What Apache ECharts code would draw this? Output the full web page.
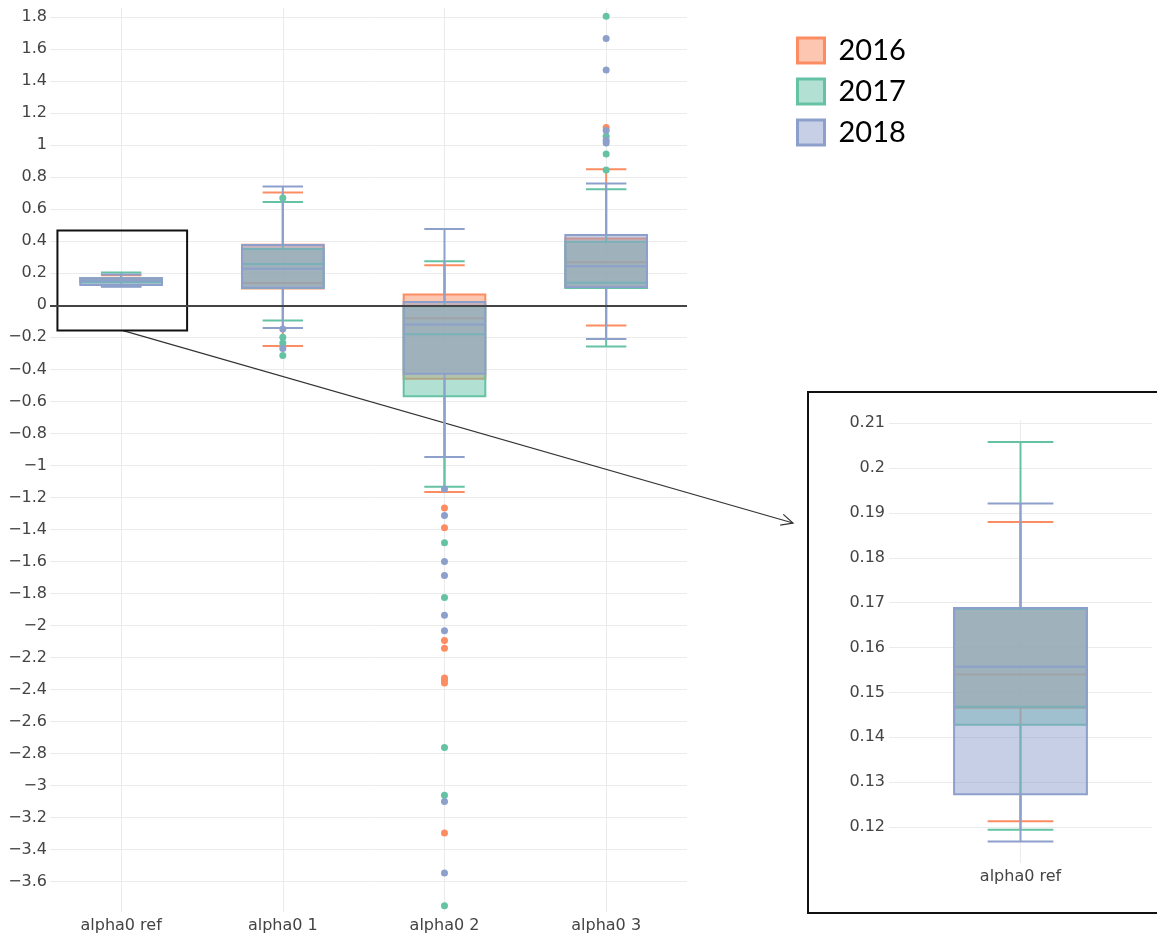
<!DOCTYPE html>
<html>
<head>
<meta charset="utf-8">
<script src="https://cdn.jsdelivr.net/npm/echarts@6/dist/echarts.min.js"></script>
<style>
  html, body { margin: 0; padding: 0; background: #fff; }
  #chart { width: 1157px; height: 934px; }
</style>
</head>
<body>
<div id="chart"></div>
<script>
const categories = ['alpha0 ref', 'alpha0 1', 'alpha0 2', 'alpha0 3'];
const years = ['2016', '2017', '2018'];
const colors = ['#fc8d62', '#66c2a5', '#8da0cb'];
const fills = ['rgba(252,141,98,0.5)', 'rgba(102,194,165,0.5)', 'rgba(141,160,203,0.5)'];

// [lower whisker, Q1, median, Q3, upper whisker], one row per category
const box2016 = [
    [0.1213, 0.1466, 0.1540, 0.1688, 0.1880],
    [-0.254, 0.105, 0.140, 0.378, 0.705],
    [-1.167, -0.458, -0.080, 0.067, 0.250],
    [-0.126, 0.112, 0.269, 0.418, 0.851]
];
const box2017 = [
    [0.1194, 0.1428, 0.1468, 0.1686, 0.2058],
    [-0.094, 0.108, 0.258, 0.352, 0.645],
    [-1.134, -0.568, -0.180, -0.005, 0.275],
    [-0.257, 0.108, 0.141, 0.398, 0.725]
];
const box2018 = [
    [0.1168, 0.1273, 0.1557, 0.1688, 0.1921],
    [-0.141, 0.110, 0.229, 0.377, 0.743],
    [-0.947, -0.428, -0.120, 0.021, 0.477],
    [-0.211, 0.114, 0.244, 0.439, 0.762]
];

// outliers: [category index, value]
const out2016 = [[2, -1.267], [2, -1.39], [2, -2.094], [2, -2.143], [2, -2.328], [2, -2.344], [2, -2.36], [2, -3.297], [3, 1.112]];
const out2017 = [[1, 0.670], [1, -0.2], [1, -0.235], [1, -0.314], [2, -1.483], [2, -1.825], [2, -2.763], [2, -3.061], [2, -3.752],
    [3, 0.845], [3, 0.946], [3, 1.056], [3, 1.807]];
const out2018 = [[1, -0.148], [1, -0.27], [2, -1.148], [2, -1.313], [2, -1.60], [2, -1.688], [2, -1.936], [2, -2.033], [2, -3.101], [2, -3.547],
    [3, 1.015], [3, 1.031], [3, 1.093], [3, 1.47], [3, 1.667]];

// zoom rectangle around "alpha0 ref" (data units of the main plot)
const zoomBoxX = [-0.394, 0.408];
const zoomBoxY = [-0.158, 0.468];

const boxes = [box2016, box2017, box2018];
const outliers = [out2016, out2017, out2018];
const BOX_W = 0.505, CAP_W = 0.25;
const axisFont = { fontFamily: 'DejaVu Sans', fontSize: 16, color: '#444' };

function fmtMinus(v, digits) {
    const r = +v.toFixed(digits);
    if (r === 0) return '0';
    return r < 0 ? '\u2212' + Math.abs(r) : String(r);
}

function boxRenderer(color, fill) {
    return function (params, api) {
        const x = api.value(0);
        const pt = i => api.coord([x, api.value(i)]);
        const lo = pt(1), q1 = pt(2), med = pt(3), q3 = pt(4), hi = pt(5);
        const bw = api.size([BOX_W, 0])[0];
        const cw = api.size([CAP_W, 0])[0];
        const cx = lo[0];
        const ls = { stroke: color, lineWidth: 2 };
        return {
            type: 'group',
            children: [
                { type: 'rect', shape: { x: cx - bw / 2, y: q3[1], width: bw, height: q1[1] - q3[1] }, style: { fill: fill, stroke: color, lineWidth: 2 } },
                { type: 'line', shape: { x1: cx - bw / 2, y1: med[1], x2: cx + bw / 2, y2: med[1] }, style: ls },
                { type: 'line', shape: { x1: cx, y1: q3[1], x2: cx, y2: hi[1] }, style: ls },
                { type: 'line', shape: { x1: cx, y1: q1[1], x2: cx, y2: lo[1] }, style: ls },
                { type: 'line', shape: { x1: cx - cw / 2, y1: hi[1], x2: cx + cw / 2, y2: hi[1] }, style: ls },
                { type: 'line', shape: { x1: cx - cw / 2, y1: lo[1], x2: cx + cw / 2, y2: lo[1] }, style: ls }
            ]
        };
    };
}

const chart = echarts.init(document.getElementById('chart'));

const gridLine = { color: '#ebebeb', width: 1, type: 'solid' };
const series = [
    // vertical gridlines at the categories, below the boxes
    {
        type: 'line', data: [], xAxisIndex: 0, yAxisIndex: 0, silent: true,
        markLine: { z: 0, symbol: 'none', silent: true, animation: false, label: { show: false }, lineStyle: gridLine,
            data: categories.map((c, i) => ({ xAxis: i })) }
    },
    {
        type: 'line', data: [], xAxisIndex: 1, yAxisIndex: 1, silent: true,
        markLine: { z: 0, symbol: 'none', silent: true, animation: false, label: { show: false }, lineStyle: gridLine,
            data: [{ xAxis: 0 }] }
    },
    // zero line and the zoom rectangle
    {
        type: 'line', data: [], xAxisIndex: 0, yAxisIndex: 0, silent: true,
        markLine: { z: 10, symbol: 'none', silent: true, animation: false, label: { show: false },
            lineStyle: { color: '#444', width: 2, type: 'solid' }, data: [{ yAxis: 0 }] },
        markArea: { z: 10, silent: true, animation: false,
            itemStyle: { color: 'rgba(0,0,0,0)', borderColor: '#111', borderWidth: 2 },
            data: [[{ xAxis: zoomBoxX[0], yAxis: zoomBoxY[1] }, { xAxis: zoomBoxX[1], yAxis: zoomBoxY[0] }]] }
    }
];

years.forEach((y, k) => {
    series.push({
        name: y, type: 'custom', xAxisIndex: 0, yAxisIndex: 0, z: 2 + k,
        itemStyle: { color: colors[k] },
        renderItem: boxRenderer(colors[k], fills[k]),
        encode: { x: 0, y: [1, 2, 3, 4, 5] },
        data: boxes[k].map((b, i) => [i].concat(b))
    });
    series.push({
        name: y, type: 'custom', xAxisIndex: 1, yAxisIndex: 1, z: 2 + k,
        itemStyle: { color: colors[k] },
        renderItem: boxRenderer(colors[k], fills[k]),
        encode: { x: 0, y: [1, 2, 3, 4, 5] },
        data: [[0].concat(boxes[k][0])]
    });
});
years.forEach((y, k) => {
    series.push({
        name: y, type: 'scatter', xAxisIndex: 0, yAxisIndex: 0, z: 6,
        symbolSize: 7, itemStyle: { color: colors[k], opacity: 1 },
        data: outliers[k]
    });
});

chart.setOption({
    animation: false,
    backgroundColor: '#fff',
    legend: {
        orient: 'vertical', left: 791, top: 31,
        itemWidth: 27, itemHeight: 25, itemGap: 12,
        textStyle: { fontFamily: 'Lato', fontSize: 29, color: '#000', padding: [0, 0, 0, 9] },
        data: years.map((y, k) => ({
            name: y, icon: 'rect',
            itemStyle: { color: fills[k], borderColor: colors[k], borderWidth: 3, opacity: 1 }
        }))
    },
    grid: [
        { left: 50, top: 8, width: 637, height: 905 },
        { left: 889, top: 420, width: 263, height: 443 }
    ],
    xAxis: [
        {
            type: 'value', gridIndex: 0, min: -0.44, max: 3.5,
            axisLine: { show: false }, axisTick: { show: false }, splitLine: { show: false },
            axisLabel: Object.assign({ margin: 6, customValues: [0, 1, 2, 3], formatter: v => categories[v] }, axisFont)
        },
        {
            type: 'value', gridIndex: 1, min: -0.5, max: 0.5,
            axisLine: { show: false }, axisTick: { show: false }, splitLine: { show: false },
            axisLabel: Object.assign({ margin: 6, customValues: [0], formatter: v => categories[v] }, axisFont)
        }
    ],
    yAxis: [
        {
            type: 'value', gridIndex: 0, min: -3.791, max: 1.858,
            splitNumber: 28, minInterval: 0.2, maxInterval: 0.2,
            axisLine: { show: false }, axisTick: { show: false },
            splitLine: { show: true, showMinLine: false, showMaxLine: false, lineStyle: { color: '#ebebeb', width: 1 } },
            axisLabel: Object.assign({ margin: 3, showMinLabel: false, showMaxLabel: false, formatter: v => fmtMinus(v, 1) }, axisFont)
        },
        {
            type: 'value', gridIndex: 1, min: 0.112, max: 0.2107,
            splitNumber: 10, minInterval: 0.01, maxInterval: 0.01,
            axisLine: { show: false }, axisTick: { show: false },
            splitLine: { show: true, showMinLine: false, showMaxLine: false, lineStyle: { color: '#ebebeb', width: 1 } },
            axisLabel: Object.assign({ margin: 4, showMinLabel: false, showMaxLabel: false, formatter: v => fmtMinus(v, 2) }, axisFont)
        }
    ],
    series: series
});

// inset frame and the arrow pointing to it
const start = chart.convertToPixel({ xAxisIndex: 0, yAxisIndex: 0 }, [0.012, zoomBoxY[0]]);
const end = [793, 523];
const ang = Math.atan2(end[1] - start[1], end[0] - start[0]);
const head = [ang + Math.PI - 0.45, ang + Math.PI + 0.45].map(a => [end[0] + 13 * Math.cos(a), end[1] + 13 * Math.sin(a)]);

chart.setOption({
    graphic: [
        { type: 'rect', shape: { x: 808, y: 392, width: 360, height: 521 }, style: { fill: 'none', stroke: '#111', lineWidth: 2 }, silent: true },
        { type: 'line', shape: { x1: start[0], y1: start[1], x2: end[0], y2: end[1] }, style: { stroke: '#333', lineWidth: 1.2 }, silent: true },
        { type: 'polyline', shape: { points: [head[0], end, head[1]] }, style: { stroke: '#333', lineWidth: 1.2, fill: 'none' }, silent: true }
    ]
});

window.addEventListener('resize', () => chart.resize());
</script>
</body>
</html>
